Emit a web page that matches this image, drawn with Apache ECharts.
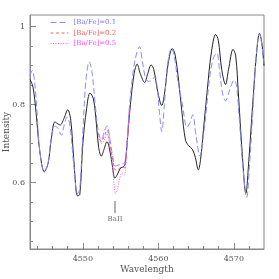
<!DOCTYPE html>
<html>
<head>
<meta charset="utf-8">
<script src="https://cdn.jsdelivr.net/npm/echarts@6/dist/echarts.min.js"></script>
<style>
html,body{margin:0;padding:0;background:#fff;}
#c{width:279px;height:279px;}
</style>
</head>
<body>
<div id="c"></div>
<script>
// Observed spectrum
const obsWl = [4543.0,4543.4,4543.8,4544.3,4544.9,4545.4,4545.8,4546.3,4546.6,4547.0,4547.5,4548.0,4548.4,4548.8,4549.3,4549.6,4550.0,4550.5,4550.95,4551.4,4551.8,4552.1,4552.45,4552.8,4553.2,4553.5,4553.9,4554.25,4554.6,4555.0,4555.3,4555.6,4555.9,4556.3,4556.8,4557.2,4557.6,4558.2,4558.6,4559.05,4559.4,4559.9,4560.45,4560.9,4561.3,4561.85,4562.2,4562.7,4563.1,4563.6,4564.0,4564.5,4564.9,4565.3,4565.6,4566.0,4566.5,4567.0,4567.6,4567.95,4568.4,4568.9,4569.3,4569.9,4570.25,4570.6,4571.1,4571.6,4572.0,4572.5,4573.0,4573.4,4573.7,4574.0];
const obsI = [0.865,0.845,0.78,0.68,0.628,0.65,0.71,0.756,0.752,0.748,0.765,0.787,0.76,0.66,0.566,0.57,0.70,0.79,0.83,0.815,0.75,0.69,0.668,0.685,0.705,0.69,0.645,0.612,0.622,0.638,0.64,0.648,0.71,0.80,0.88,0.904,0.88,0.857,0.88,0.902,0.89,0.835,0.798,0.84,0.905,0.944,0.93,0.86,0.786,0.709,0.695,0.686,0.665,0.633,0.66,0.74,0.84,0.93,0.98,0.965,0.89,0.852,0.89,0.942,0.925,0.83,0.68,0.573,0.66,0.80,0.93,0.983,0.96,0.90];
// Synthetic [Ba/Fe]=0.1
const modWl = [4543.0,4543.3,4543.6,4543.9,4544.3,4544.9,4545.4,4545.8,4546.3,4546.7,4547.15,4547.5,4547.9,4548.3,4548.8,4549.3,4549.6,4550.0,4550.4,4550.85,4551.2,4551.7,4552.1,4552.45,4552.9,4553.2,4553.6,4554.0,4554.3,4554.7,4555.1,4555.5,4555.8,4556.2,4556.7,4557.1,4557.5,4557.9,4558.3,4558.7,4559.1,4559.55,4559.85,4560.15,4560.45,4560.8,4561.2,4561.75,4562.1,4562.6,4563.2,4563.8,4564.2,4564.55,4565.0,4565.5,4565.9,4566.3,4566.8,4567.3,4567.75,4568.1,4568.5,4568.9,4569.4,4570.05,4570.35,4570.7,4571.2,4571.7,4572.1,4572.6,4573.0,4573.4,4573.7,4574.0];
const mod01 = [0.875,0.888,0.86,0.79,0.68,0.63,0.65,0.71,0.745,0.74,0.722,0.745,0.769,0.745,0.645,0.572,0.585,0.73,0.86,0.91,0.885,0.79,0.725,0.71,0.735,0.746,0.71,0.662,0.643,0.645,0.648,0.65,0.69,0.80,0.89,0.93,0.949,0.91,0.868,0.86,0.862,0.872,0.845,0.78,0.731,0.80,0.90,0.945,0.925,0.86,0.80,0.742,0.755,0.774,0.72,0.668,0.71,0.775,0.87,0.92,0.932,0.89,0.83,0.81,0.835,0.863,0.85,0.77,0.64,0.562,0.65,0.81,0.93,0.982,0.955,0.90];
// Synthetic [Ba/Fe]=0.2 and 0.5 around Ba II line
const baWl = [4552.1,4552.45,4552.9,4553.2,4553.6,4553.9,4554.15,4554.35,4554.6,4554.9,4555.2,4555.5,4555.8,4556.2];
const mod02 = [0.725,0.705,0.722,0.735,0.70,0.665,0.64,0.632,0.632,0.638,0.64,0.638,0.685,0.80];
const mod05 = [0.725,0.70,0.712,0.725,0.69,0.645,0.595,0.571,0.585,0.612,0.625,0.62,0.68,0.80];
// Axes
const xMajor = [4550, 4560, 4570];
const xMinor = [4544,4546,4548,4552,4554,4556,4558,4562,4564,4566,4568,4572];
const yMajor = [0.6, 0.8, 1];
const yMinor = [0.45,0.5,0.55,0.65,0.7,0.75,0.85,0.9,0.95];
const seriesNames = ['[Ba/Fe]=0.1', '[Ba/Fe]=0.2', '[Ba/Fe]=0.5'];
// Annotation
const baLineX = 4554.26;
const baLineY = [0.553, 0.522];
const baLabelY = 0.507;
const baLabel = 'BaII';

const pairs = (xs, ys) => xs.map((x, i) => [x, ys[i]]);
const FONT = 'DejaVu Serif';
const AX = '#888';
const C01 = '#8a8aff', C02 = '#ff6060', C05 = '#ff50ff';

const chart = echarts.init(document.getElementById('c'), null, {renderer: 'canvas'});
const xBase = {type:'value', min:4543, max:4574, position:'bottom', splitLine:{show:false}};
const yBase = {type:'value', min:0.43, max:1.03, position:'left', splitLine:{show:false}};
chart.setOption({
  animation: false,
  backgroundColor: '#fff',
  grid: {left:30, right:15, top:15, bottom:30, show:true, borderColor:AX, borderWidth:1,
         backgroundColor:'transparent', containLabel:false, outerBoundsMode:'none'},
  legend: {
    data: [
      {name: seriesNames[0], textStyle:{color:'#7a7aff'}, lineStyle:{color:C01, width:1, type:[6,3]}},
      {name: seriesNames[1], textStyle:{color:'#ff6060'}, lineStyle:{color:C02, width:1, type:[3,2.5]}},
      {name: seriesNames[2], textStyle:{color:'#ff50ff'}, lineStyle:{color:C05, width:1, type:[1,1.5]}}
    ],
    orient:'vertical', left:50, top:19, padding:0,
    itemWidth:18, itemHeight:8, itemGap:3.5,
    itemStyle:{opacity:0},
    lineStyle:{width:1},
    textStyle:{fontFamily:FONT, fontSize:7}, selectedMode:false
  },
  xAxis: [
    Object.assign({}, xBase, {
      axisLine:{show:true, lineStyle:{color:AX, width:1}},
      axisTick:{show:true, inside:true, length:6, customValues:xMajor, lineStyle:{color:AX}},
      axisLabel:{customValues:xMajor, margin:6, fontFamily:FONT, fontSize:8, color:'#555', formatter:(v)=>String(Math.round(v))},
      name:'Wavelength', nameLocation:'middle', nameGap:16, nameMoveOverlap:false,
      nameTextStyle:{fontFamily:FONT, fontSize:9, color:'#555'}
    }),
    Object.assign({}, xBase, {
      axisLine:{show:false},
      axisTick:{show:true, inside:true, length:3, customValues:xMinor, lineStyle:{color:AX}},
      axisLabel:{show:false}
    })
  ],
  yAxis: [
    Object.assign({}, yBase, {
      axisLine:{show:true, lineStyle:{color:AX, width:1}},
      axisTick:{show:true, inside:true, length:6, customValues:yMajor, lineStyle:{color:AX}},
      axisLabel:{customValues:yMajor, margin:5, fontFamily:FONT, fontSize:8, color:'#555', formatter:(v)=>String(+(+v).toFixed(2))},
      name:'Intensity', nameLocation:'middle', nameGap:19, nameRotate:90, nameMoveOverlap:false,
      nameTextStyle:{fontFamily:FONT, fontSize:9, color:'#555'}
    }),
    Object.assign({}, yBase, {
      axisLine:{show:false},
      axisTick:{show:true, inside:true, length:3, customValues:yMinor, lineStyle:{color:AX}},
      axisLabel:{show:false}
    })
  ],
  series: [
    {name:'observed', type:'line', data:pairs(obsWl, obsI), smooth:0.35, showSymbol:false, symbol:'none',
     lineStyle:{color:'#222', width:1}, itemStyle:{color:'#222'}, z:2},
    {name:seriesNames[2], type:'line', data:pairs(baWl, mod05), smooth:0.35, symbol:'none',
     lineStyle:{color:C05, width:1, type:[1,1.5]}, itemStyle:{color:C05}, z:3},
    {name:seriesNames[1], type:'line', data:pairs(baWl, mod02), smooth:0.35, symbol:'none',
     lineStyle:{color:C02, width:1, type:[3,2.5]}, itemStyle:{color:C02}, z:4},
    {name:seriesNames[0], type:'line', data:pairs(modWl, mod01), smooth:0.35, symbol:'none',
     lineStyle:{color:C01, width:1, type:[6,3]}, itemStyle:{color:C01}, z:5},
    {name:'baline', type:'line', data:[[baLineX, baLineY[0]],[baLineX, baLineY[1]]], symbol:'none', silent:true,
     lineStyle:{color:'#666', width:1}, z:6},
    {name:'balabel', type:'scatter', data:[[baLineX, baLabelY]], symbolSize:0, silent:true,
     label:{show:true, position:'inside', formatter:baLabel, fontFamily:FONT, fontSize:7, color:'#444'}, z:6}
  ]
});
</script>
</body>
</html>
